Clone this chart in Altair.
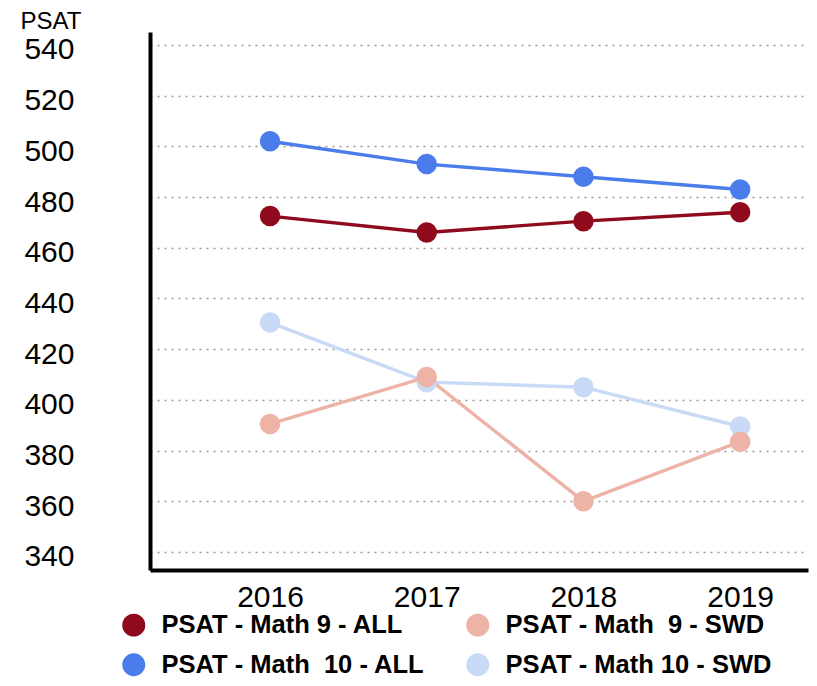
import altair as alt
import pandas as pd

years = [2016, 2017, 2018, 2019]
# domain order chosen so that the two-column legend reads row by row like the reference
series_names = ["PSAT - Math 9 - ALL", "PSAT - Math  10 - ALL", "PSAT - Math  9 - SWD", "PSAT - Math 10 - SWD"]
math9_all = [472.5, 466, 470.5, 474]
math10_all = [502, 493, 488, 483]
math9_swd = [390.5, 409, 360, 383.5]
math10_swd = [430.5, 407, 405, 389.5]
colors = ["#8E0A1C", "#4A7DEB", "#EDB3A6", "#C8DAF6"]

series_values = dict(zip(series_names, [math9_all, math10_all, math9_swd, math10_swd]))
paint_order = [series_names[3], series_names[2], series_names[1], series_names[0]]

rows = []
for name in paint_order:
    for y, v in zip(years, series_values[name]):
        rows.append({"year": y, "value": v, "series": name})
df = pd.DataFrame(rows)

FONT = "Liberation Sans"

x = alt.X("year:Q",
          scale=alt.Scale(domain=[2015.234, 2019.433], nice=False, zero=False),
          axis=alt.Axis(values=years, format="d", title=None, grid=False, ticks=False,
                        domainColor="black", domainWidth=4, labelFontSize=30,
                        labelColor="black", labelFont=FONT, labelPadding=12,
                        labelFlush=False))
y = alt.Y("value:Q",
          scale=alt.Scale(domain=[332.9, 545.1], nice=False, zero=False),
          axis=alt.Axis(values=list(range(340, 541, 20)), title="PSAT", titleAngle=0,
                        titleX=-130, titleY=-23, titleAlign="left", titleBaseline="top",
                        titleFont=FONT, titleFontSize=24, titleFontWeight="normal",
                        titleColor="black",
                        grid=True, gridDash=[2, 5], gridColor="#9a9a9a", gridWidth=1.6,
                        ticks=False, domainColor="black", domainWidth=4,
                        labelFontSize=30, labelFont=FONT, labelColor="black",
                        labelPadding=76, labelOffset=5))

color_scale = alt.Scale(domain=series_names, range=colors)

base = alt.Chart(df).encode(
    x=x, y=y,
    color=alt.Color("series:N", scale=color_scale,
                    legend=alt.Legend(title=None, orient="none", legendX=-29, legendY=580,
                                      columns=2, columnPadding=38, rowPadding=10,
                                      symbolType="circle", symbolSize=440,
                                      symbolStrokeColor="#3b3566", symbolStrokeWidth=2,
                                      labelFont=FONT, labelFontSize=25.5, labelFontWeight="bold",
                                      labelColor="black", labelOffset=15, labelLimit=400,
                                      labelExpr="replace(datum.label, '  ', '\u00a0 ')")),
)

lines = base.mark_line(strokeWidth=3.4)
points = base.mark_circle(size=420, opacity=1, stroke="#3b3566").encode(
    strokeWidth=alt.value(0)
)

chart = alt.layer(lines, points).properties(
    width=658, height=538,
    autosize=alt.AutoSizeParams(type="none"),
    padding={"left": 142, "top": 24, "right": 1, "bottom": 108},
).configure_view(stroke=None)

chart.save("out.html", embed_options={"renderer": "svg", "actions": False})
